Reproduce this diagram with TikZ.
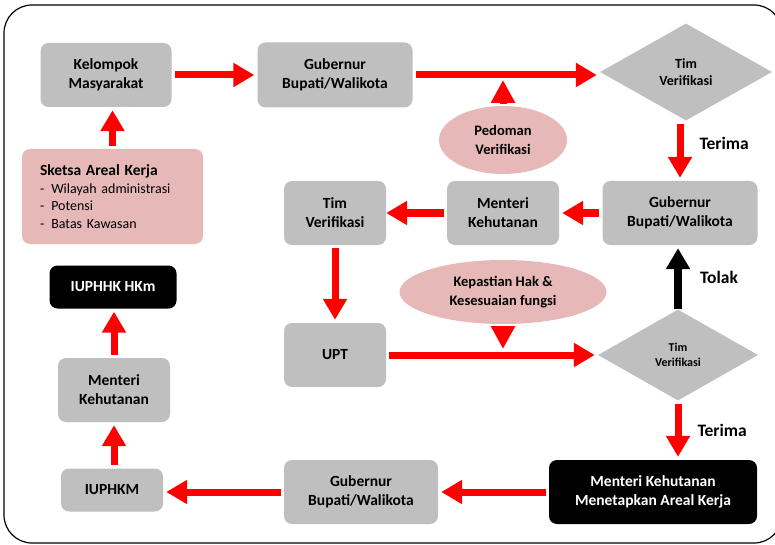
\documentclass[tikz,border=0pt]{standalone}
\usepackage{fontspec}
\setmainfont{Carlito}
\usetikzlibrary{arrows.meta, shapes.geometric}
\definecolor{boxgray}{HTML}{BFBFBF}
\definecolor{notepink}{HTML}{E6B8B7}
\definecolor{flowred}{HTML}{FF0000}

\begin{document}
\begin{tikzpicture}[x=1pt, y=-1pt,
  box/.style={fill=boxgray, rounded corners=8pt, inner sep=0pt, align=center, font=\fontsize{15.5}{19}\selectfont\bfseries},
  darkbox/.style={box, fill=black, text=white},
  timbox/.style={diamond, fill=boxgray, inner sep=0pt, align=center, font=\fontsize{14}{17}\selectfont\bfseries},
  note/.style={ellipse, fill=notepink, inner sep=0pt, align=center, font=\fontsize{14.5}{18.5}\selectfont\bfseries},
  flow/.style={draw=flowred, line width=7pt, -{Triangle[length=21pt,width=23pt]}, shorten <=3pt, shorten >=3pt},
  pointer/.style={flow, -{Triangle[length=23pt,width=23pt]}, shorten <=2pt},
  backflow/.style={flow, draw=black, line width=8pt},
  lbl/.style={inner sep=0pt, font=\fontsize{17.5}{20}\selectfont\bfseries}]
  \useasboundingbox (0,0) rectangle (775,545);
  % frame
  \draw[line width=1.2pt, rounded corners=28pt] (4,5) rectangle (782,543);

  % top row
  \node[box, minimum width=131, minimum height=64] (kel) at (106,75) {Kelompok\\Masyarakat};
  \node[box, minimum width=155, minimum height=65] (gub1) at (335,75) {Gubernur\\Bupati/Walikota};
  \node[timbox, minimum width=172, minimum height=97] (tim1) at (686,72) {Tim\\Verifikasi};
  \node[note, minimum width=128, minimum height=68] (pedoman) at (503,140) {Pedoman\\Verifikasi};
  \node[box, fill=notepink, minimum height=95, text width=145, inner xsep=18pt, align=left,
        font=\fontsize{14}{17.5}\selectfont] (sketsa) at (112.5,196.5)
    {{\fontsize{15.5}{17.5}\selectfont\bfseries Sketsa Areal Kerja}\\-\hspace{7pt}Wilayah administrasi\\-\hspace{7pt}Potensi\\-\hspace{7pt}Batas Kawasan};

  % middle
  \node[box, minimum width=155, minimum height=64] (gub2) at (680,213) {Gubernur\\Bupati/Walikota};
  \node[box, minimum width=112, minimum height=64] (menteri1) at (503,213) {Menteri\\Kehutanan};
  \node[box, minimum width=102, minimum height=64] (tim2) at (335,213) {Tim\\Verifikasi};
  \node[note, minimum width=207, minimum height=64] (kepastian) at (503,292) {Kepastian Hak \&\\Kesesuaian fungsi};
  \node[box, minimum width=102, minimum height=64] (upt) at (335,355) {UPT};
  \node[timbox, minimum width=160, minimum height=91, font=\fontsize{12}{15}\selectfont\bfseries] (tim3) at (678,355) {Tim\\Verifikasi};
  \node[darkbox, minimum width=127, minimum height=43] (hkm) at (113,287) {IUPHHK HKm};
  \node[box, minimum width=112, minimum height=64] (menteri2) at (114,390) {Menteri\\Kehutanan};

  % bottom row
  \node[darkbox, minimum width=208, minimum height=64] (tetap) at (653,492) {Menteri Kehutanan\\Menetapkan Areal Kerja};
  \node[box, minimum width=154, minimum height=64] (gub3) at (361,492) {Gubernur\\Bupati/Walikota};
  \node[box, minimum width=102, minimum height=43] (iuphkm) at (112,490) {IUPHKM};

  % arrows
  \draw[flow] (sketsa.north) -- (sketsa.north |- kel.south);
  \draw[flow] (kel) -- (gub1);
  \draw[flow] (gub1.east) -- (gub1.east -| tim1.west);
  \draw[pointer, shorten >=5pt] (pedoman.north) -- (pedoman.north |- gub1.east);
  \draw[flow] (gub2.north |- tim1.south) -- (gub2.north) node[pos=0.37, right=16pt, lbl] {Terima};
  \draw[flow] (gub2) -- (menteri1);
  \draw[flow, shorten >=0pt] (menteri1) -- (tim2);
  \draw[flow] (tim2) -- (upt);
  \draw[flow] (upt) -- (tim3);
  \draw[pointer, shorten >=6pt] (kepastian.south) -- (kepastian.south |- upt.east);
  \draw[backflow, shorten <=0pt] (tim3.north) -- (tim3.north |- gub2.south) node[midway, right=18pt, lbl] {Tolak};
  \draw[flow] (tim3.south) -- (tim3.south |- tetap.north) node[midway, right=16pt, lbl] {Terima};
  \draw[flow] (tetap) -- (gub3);
  \draw[flow] (gub3.west) -- (gub3.west -| iuphkm.east);
  \draw[flow] (menteri2.south |- iuphkm.north) -- (menteri2.south);
  \draw[flow] (menteri2.north) -- (menteri2.north |- hkm.south);
\end{tikzpicture}
\end{document}
